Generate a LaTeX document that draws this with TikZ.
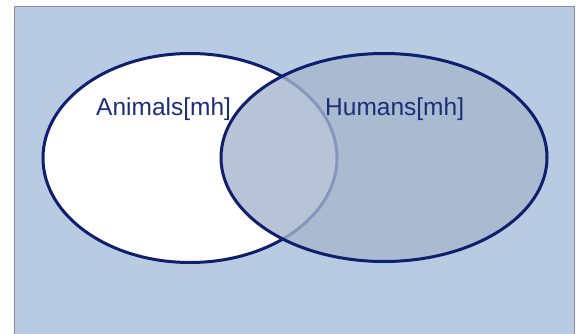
\documentclass[tikz,border=0pt]{standalone}
\usepackage{fontspec}
\setmainfont{Liberation Sans}
\definecolor{panelblue}{RGB}{185,202,227}
\definecolor{panelframe}{RGB}{128,140,165}
\definecolor{setline}{RGB}{16,30,110}
\definecolor{setfill}{RGB}{165,182,205}
\definecolor{labeltext}{RGB}{30,45,120}
\begin{document}
\begin{tikzpicture}[x=1pt,y=-1pt]
        \useasboundingbox (0,0) rectangle (580,334);
        % Panel
        \fill[panelblue] (14,6) rectangle (574,340);
        \draw[panelframe, thin] (14,340) -- (14,6) -- (574,6) -- (574,340);
        
        % Animals set
        \draw[setline, line width=3pt, fill=white] (190,158) ellipse [x radius=147, y radius=104.5];
        
        % Humans set
        \fill[setfill, fill opacity=0.8] (384,157.5) ellipse [x radius=163, y radius=104];
        \draw[setline, line width=3pt] (384,157.5) ellipse [x radius=163, y radius=104];
        
        % Labels
        \node[labeltext, anchor=base west, inner sep=0pt] (animals) at (96,115) {\fontsize{24.5}{28}\selectfont Animals[mh]};
        \node[labeltext, anchor=base west, inner sep=0pt] (humans) at (325,115) {\fontsize{24.5}{28}\selectfont Humans[mh]};
\end{tikzpicture}
\end{document}
